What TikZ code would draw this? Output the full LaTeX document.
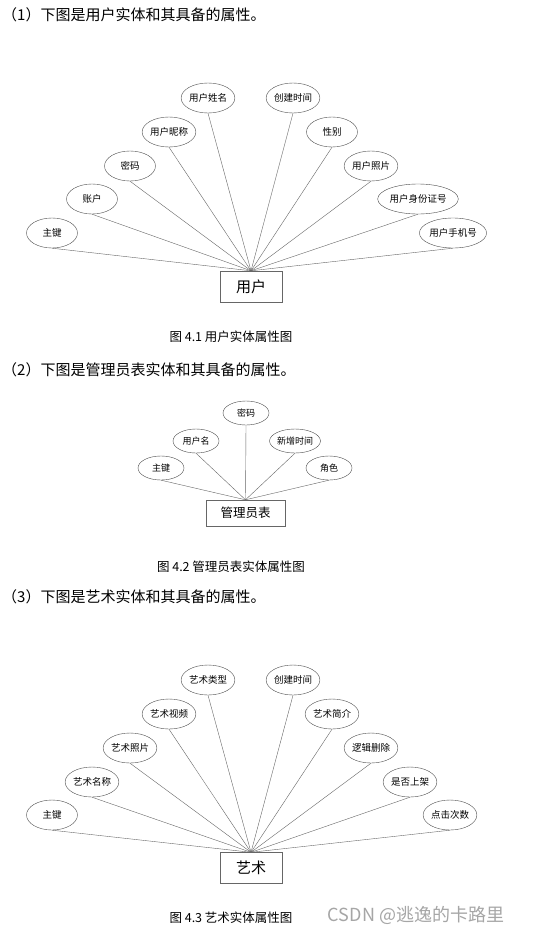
\documentclass[tikz,border=0pt]{standalone}
\usepackage{fontspec}
\setmainfont{Noto Sans CJK SC}
\usetikzlibrary{shapes.geometric}
\begin{document}
\begin{tikzpicture}[x=1pt,y=-1pt,
  attr/.style={draw=black!70,ellipse,inner sep=0pt,minimum width=51pt,minimum height=30pt,font=\fontsize{9.5}{10}\selectfont},
  ent/.style={draw=black!60,inner sep=0pt,minimum width=62pt,minimum height=31pt,font=\fontsize{15}{16}\selectfont},
  link/.style={draw=black!60,line width=.4pt},
  head/.style={anchor=west,inner sep=0pt,font=\fontsize{15}{16}\selectfont},
  figcap/.style={inner sep=0pt,font=\fontsize{12.5}{14}\selectfont}]
\useasboundingbox[fill=white] (0,0) rectangle (547,934);
% user entity
\node[head] (h1) at (2,15) {（1）下图是用户实体和其具备的属性。};
\node[ent] (yh) at (251,286.5) {用户};
\node[attr] (u1) at (52,233) {主键};
\node[attr] (u2) at (92,199) {账户};
\node[attr] (u3) at (130,166) {密码};
\node[attr] (u4) at (169,132) {用户昵称};
\node[attr] (u5) at (208,98) {用户姓名};
\node[attr] (u6) at (293,98) {创建时间};
\node[attr] (u7) at (332,132) {性别};
\node[attr] (u8) at (371,166) {用户照片};
\node[attr,minimum width=67pt] (u9) at (418,199) {用户身份证号};
\node[attr,minimum width=58pt] (u10) at (453,233) {用户手机号};
\foreach \a in {u1,u2,u3,u4,u5,u6,u7,u8,u9,u10} \draw[link] (\a.south) -- (yh.north);
\node[figcap] (c1) at (231,337) {图 4.1 用户实体属性图};
% admin entity
\node[head] (h2) at (2,370) {（2）下图是管理员表实体和其具备的属性。};
\node[ent,minimum width=79pt,minimum height=26pt,font=\fontsize{12.5}{14}\selectfont] (gl) at (245.5,513) {管理员表};
\node[attr,minimum width=46pt,minimum height=24pt,font=\fontsize{9}{10}\selectfont] (m1) at (161,468) {主键};
\node[attr,minimum width=46pt,minimum height=24pt,font=\fontsize{9}{10}\selectfont] (m2) at (196,441) {用户名};
\node[attr,minimum width=46pt,minimum height=24pt,font=\fontsize{9}{10}\selectfont] (m3) at (246,413) {密码};
\node[attr,minimum width=46pt,minimum height=24pt,font=\fontsize{9}{10}\selectfont] (m4) at (295,441) {新增时间};
\node[attr,minimum width=46pt,minimum height=24pt,font=\fontsize{9}{10}\selectfont] (m5) at (329,468) {角色};
\foreach \a in {m1,m2,m3,m4,m5} \draw[link] (\a.south) -- (gl.north);
\node[figcap] (c2) at (231,567) {图 4.2 管理员表实体属性图};
% art entity
\node[head] (h3) at (2,597) {（3）下图是艺术实体和其具备的属性。};
\node[ent] (ys) at (251,868) {艺术};
\node[attr] (a1) at (52,815) {主键};
\node[attr] (a2) at (92,782) {艺术名称};
\node[attr] (a3) at (130,748) {艺术照片};
\node[attr] (a4) at (169,714) {艺术视频};
\node[attr] (a5) at (208,680) {艺术类型};
\node[attr] (a6) at (293,680) {创建时间};
\node[attr] (a7) at (332,714) {艺术简介};
\node[attr] (a8) at (371,748) {逻辑删除};
\node[attr] (a9) at (410,782) {是否上架};
\node[attr] (a10) at (450,815) {点击次数};
\foreach \a in {a1,a2,a3,a4,a5,a6,a7,a8,a9,a10} \draw[link] (\a.south) -- (ys.north);
\node[figcap] (c3) at (231,918) {图 4.3 艺术实体属性图};
\node[inner sep=0pt,text=black!35,font=\fontsize{18}{20}\selectfont] (wm) at (416,915) {CSDN @逃逸的卡路里};
\end{tikzpicture}
\end{document}
